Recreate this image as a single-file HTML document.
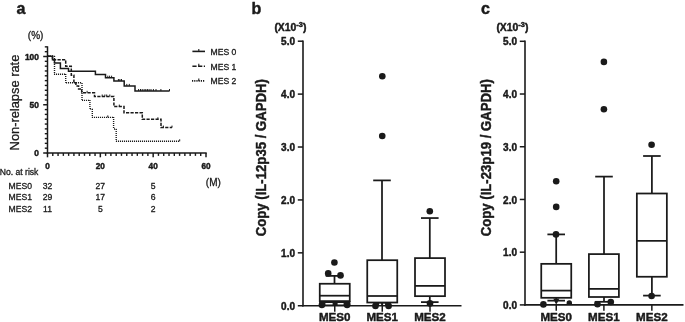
<!DOCTYPE html>
<html><head><meta charset="utf-8"><title>Figure</title>
<style>
html,body{margin:0;padding:0;background:#fff;}
body{width:685px;height:322px;overflow:hidden;}
svg{display:block;filter:grayscale(1);}
svg text{font-family:"Liberation Sans",sans-serif;fill:#1a1a1a;stroke:#1a1a1a;stroke-width:0.3px;stroke-linejoin:round;}
svg text[font-weight="bold"]{stroke-width:0.45px;}
</style></head>
<body>
<svg width="685" height="322" viewBox="0 0 685 322" stroke="#1a1a1a" fill="#1a1a1a" stroke-linecap="butt">
<rect x="0" y="0" width="685" height="322" fill="#fff" stroke="none"/>
<text x="16.6" y="14.4" font-size="16" font-weight="bold">a</text>
<text x="27.8" y="38.6" font-size="10">(%)</text>
<text transform="translate(18.6,102.55) rotate(-90)" text-anchor="middle" font-size="12.8" textLength="95.7" lengthAdjust="spacingAndGlyphs">Non-relapse rate</text>
<line x1="47.5" y1="46.3" x2="47.5" y2="153.75" stroke-width="1.5"/>
<line x1="43.2" y1="153" x2="47.5" y2="153" stroke-width="1.5"/>
<line x1="44.8" y1="148.18" x2="47.5" y2="148.18" stroke-width="1.4"/>
<line x1="44.8" y1="143.35" x2="47.5" y2="143.35" stroke-width="1.4"/>
<line x1="44.8" y1="138.53" x2="47.5" y2="138.53" stroke-width="1.4"/>
<line x1="44.8" y1="133.7" x2="47.5" y2="133.7" stroke-width="1.4"/>
<line x1="44.8" y1="128.88" x2="47.5" y2="128.88" stroke-width="1.4"/>
<line x1="44.8" y1="124.05" x2="47.5" y2="124.05" stroke-width="1.4"/>
<line x1="44.8" y1="119.22" x2="47.5" y2="119.22" stroke-width="1.4"/>
<line x1="44.8" y1="114.4" x2="47.5" y2="114.4" stroke-width="1.4"/>
<line x1="44.8" y1="109.58" x2="47.5" y2="109.58" stroke-width="1.4"/>
<line x1="43.2" y1="104.75" x2="47.5" y2="104.75" stroke-width="1.5"/>
<line x1="44.8" y1="99.92" x2="47.5" y2="99.92" stroke-width="1.4"/>
<line x1="44.8" y1="95.1" x2="47.5" y2="95.1" stroke-width="1.4"/>
<line x1="44.8" y1="90.28" x2="47.5" y2="90.28" stroke-width="1.4"/>
<line x1="44.8" y1="85.45" x2="47.5" y2="85.45" stroke-width="1.4"/>
<line x1="44.8" y1="80.62" x2="47.5" y2="80.62" stroke-width="1.4"/>
<line x1="44.8" y1="75.8" x2="47.5" y2="75.8" stroke-width="1.4"/>
<line x1="44.8" y1="70.97" x2="47.5" y2="70.97" stroke-width="1.4"/>
<line x1="44.8" y1="66.15" x2="47.5" y2="66.15" stroke-width="1.4"/>
<line x1="44.8" y1="61.33" x2="47.5" y2="61.33" stroke-width="1.4"/>
<line x1="43.2" y1="56.5" x2="47.5" y2="56.5" stroke-width="1.5"/>
<line x1="44.8" y1="51.67" x2="47.5" y2="51.67" stroke-width="1.4"/>
<line x1="44.8" y1="46.85" x2="47.5" y2="46.85" stroke-width="1.4"/>
<text x="38.9" y="156.3" font-size="8.4" font-weight="bold" text-anchor="end">0</text>
<text x="38.9" y="108.05" font-size="8.4" font-weight="bold" text-anchor="end">50</text>
<text x="38.9" y="59.8" font-size="8.4" font-weight="bold" text-anchor="end">100</text>
<line x1="46.75" y1="153" x2="206.7" y2="153" stroke-width="1.5"/>
<line x1="47.5" y1="153" x2="47.5" y2="157.3" stroke-width="1.5"/>
<line x1="52.78" y1="153" x2="52.78" y2="155.9" stroke-width="1.4"/>
<line x1="58.07" y1="153" x2="58.07" y2="155.9" stroke-width="1.4"/>
<line x1="63.35" y1="153" x2="63.35" y2="155.9" stroke-width="1.4"/>
<line x1="68.63" y1="153" x2="68.63" y2="155.9" stroke-width="1.4"/>
<line x1="73.92" y1="153" x2="73.92" y2="155.9" stroke-width="1.4"/>
<line x1="79.2" y1="153" x2="79.2" y2="155.9" stroke-width="1.4"/>
<line x1="84.48" y1="153" x2="84.48" y2="155.9" stroke-width="1.4"/>
<line x1="89.77" y1="153" x2="89.77" y2="155.9" stroke-width="1.4"/>
<line x1="95.05" y1="153" x2="95.05" y2="155.9" stroke-width="1.4"/>
<line x1="100.33" y1="153" x2="100.33" y2="157.3" stroke-width="1.5"/>
<line x1="105.62" y1="153" x2="105.62" y2="155.9" stroke-width="1.4"/>
<line x1="110.9" y1="153" x2="110.9" y2="155.9" stroke-width="1.4"/>
<line x1="116.18" y1="153" x2="116.18" y2="155.9" stroke-width="1.4"/>
<line x1="121.47" y1="153" x2="121.47" y2="155.9" stroke-width="1.4"/>
<line x1="126.75" y1="153" x2="126.75" y2="155.9" stroke-width="1.4"/>
<line x1="132.03" y1="153" x2="132.03" y2="155.9" stroke-width="1.4"/>
<line x1="137.32" y1="153" x2="137.32" y2="155.9" stroke-width="1.4"/>
<line x1="142.6" y1="153" x2="142.6" y2="155.9" stroke-width="1.4"/>
<line x1="147.88" y1="153" x2="147.88" y2="155.9" stroke-width="1.4"/>
<line x1="153.17" y1="153" x2="153.17" y2="157.3" stroke-width="1.5"/>
<line x1="158.45" y1="153" x2="158.45" y2="155.9" stroke-width="1.4"/>
<line x1="163.73" y1="153" x2="163.73" y2="155.9" stroke-width="1.4"/>
<line x1="169.02" y1="153" x2="169.02" y2="155.9" stroke-width="1.4"/>
<line x1="174.3" y1="153" x2="174.3" y2="155.9" stroke-width="1.4"/>
<line x1="179.58" y1="153" x2="179.58" y2="155.9" stroke-width="1.4"/>
<line x1="184.87" y1="153" x2="184.87" y2="155.9" stroke-width="1.4"/>
<line x1="190.15" y1="153" x2="190.15" y2="155.9" stroke-width="1.4"/>
<line x1="195.43" y1="153" x2="195.43" y2="155.9" stroke-width="1.4"/>
<line x1="200.72" y1="153" x2="200.72" y2="155.9" stroke-width="1.4"/>
<line x1="206" y1="153" x2="206" y2="157.3" stroke-width="1.5"/>
<text x="47.5" y="168.6" font-size="8.2" font-weight="bold" text-anchor="middle">0</text>
<text x="100.33" y="168.6" font-size="8.2" font-weight="bold" text-anchor="middle">20</text>
<text x="153.17" y="168.6" font-size="8.2" font-weight="bold" text-anchor="middle">40</text>
<text x="206" y="168.6" font-size="8.2" font-weight="bold" text-anchor="middle">60</text>
<text x="205.8" y="185.6" font-size="10">(M)</text>
<text x="-0.3" y="174.9" font-size="8.6">No. at risk</text>
<text x="8.6" y="188.5" font-size="8.6">MES0</text>
<text x="47.5" y="188.5" font-size="8.6" text-anchor="middle">32</text>
<text x="100.33" y="188.5" font-size="8.6" text-anchor="middle">27</text>
<text x="153.17" y="188.5" font-size="8.6" text-anchor="middle">5</text>
<text x="8.6" y="200.4" font-size="8.6">MES1</text>
<text x="47.5" y="200.4" font-size="8.6" text-anchor="middle">29</text>
<text x="100.33" y="200.4" font-size="8.6" text-anchor="middle">17</text>
<text x="153.17" y="200.4" font-size="8.6" text-anchor="middle">6</text>
<text x="8.6" y="212.3" font-size="8.6">MES2</text>
<text x="47.5" y="212.3" font-size="8.6" text-anchor="middle">11</text>
<text x="100.33" y="212.3" font-size="8.6" text-anchor="middle">5</text>
<text x="153.17" y="212.3" font-size="8.6" text-anchor="middle">2</text>
<path d="M192.4,51.4 L205,51.4" fill="none" stroke-width="1.6"/>
<line x1="198.8" y1="51.4" x2="198.8" y2="48.9" stroke-width="1.1"/>
<text x="210.6" y="54.7" font-size="8.6">MES 0</text>
<path d="M192.4,66.2 L205,66.2" fill="none" stroke-width="1.6" stroke-dasharray="4.2 1.5"/>
<line x1="198.8" y1="66.2" x2="198.8" y2="63.7" stroke-width="1.1"/>
<text x="210.6" y="69.5" font-size="8.6">MES 1</text>
<path d="M192,80.9 H205" fill="none" stroke-width="1.6" stroke-dasharray="1.2 1"/>
<line x1="198.8" y1="80.9" x2="198.8" y2="78.4" stroke-width="1.1"/>
<text x="210.6" y="84.2" font-size="8.6">MES 2</text>
<path d="M48,56.3 H54.5" fill="none" stroke-width="1.4" stroke-dasharray="1.1 0.9"/>
<path d="M54.5,56 V74.2" fill="none" stroke-width="1.4" stroke-dasharray="1.1 0.9"/>
<path d="M54,74.2 H65.7" fill="none" stroke-width="1.4" stroke-dasharray="1.1 0.9"/>
<path d="M65.7,74 V82.8" fill="none" stroke-width="1.4" stroke-dasharray="1.1 0.9"/>
<path d="M66,82.8 H82" fill="none" stroke-width="1.4" stroke-dasharray="1.1 0.9"/>
<path d="M82,83 V100.4" fill="none" stroke-width="1.4" stroke-dasharray="1.1 0.9"/>
<path d="M82,100.4 H89.9" fill="none" stroke-width="1.4" stroke-dasharray="1.1 0.9"/>
<path d="M89.9,100 V108.7" fill="none" stroke-width="1.4" stroke-dasharray="1.1 0.9"/>
<path d="M90,108.7 H92.3" fill="none" stroke-width="1.4" stroke-dasharray="1.1 0.9"/>
<path d="M92.3,109 V117.4" fill="none" stroke-width="1.4" stroke-dasharray="1.1 0.9"/>
<path d="M92,117.4 H113.6" fill="none" stroke-width="1.4" stroke-dasharray="1.1 0.9"/>
<path d="M113.6,117 V129" fill="none" stroke-width="1.4" stroke-dasharray="1.1 0.9"/>
<path d="M114,129 H116.2" fill="none" stroke-width="1.4" stroke-dasharray="1.1 0.9"/>
<path d="M116.2,129 V141.3" fill="none" stroke-width="1.4" stroke-dasharray="1.1 0.9"/>
<path d="M116,141.3 H179.7" fill="none" stroke-width="1.4" stroke-dasharray="1.1 0.9"/>
<path d="M47.5,56.3 L52.5,56.3 L52.5,59.8 L65.7,59.8 L65.7,66.3 L71.3,66.3 L71.3,75.2 L73.9,75.2 L73.9,82.8 L75.9,82.8 L75.9,85.9 L78.6,85.9 L78.6,89 L81.7,89 L81.7,92.8 L94.5,92.8 L94.5,96.5 L113.9,96.5 L113.9,106.6 L124,106.6 L124,112.8 L142.3,112.8 L142.3,119.3 L161,119.3 L161,127.6 L172,127.6" fill="none" stroke-width="1.5" stroke-dasharray="3.2 1.3"/>
<path d="M47.5,56.3 L52.5,56.3 L52.5,59.8 L54.5,59.8 L54.5,62.9 L60.4,62.9 L60.4,68.4 L68.5,68.4 L68.5,71.2 L95.4,71.2 L95.4,74.5 L105.5,74.5 L105.5,77.7 L113.9,77.7 L113.9,81 L124.2,81 L124.2,85.9 L135,85.9 L135,91 L169.6,91" fill="none" stroke-width="1.5"/>
<line x1="107.8" y1="77.7" x2="107.8" y2="75.7" stroke-width="1"/>
<line x1="109.6" y1="77.7" x2="109.6" y2="75.7" stroke-width="1"/>
<line x1="111.6" y1="77.7" x2="111.6" y2="75.7" stroke-width="1"/>
<line x1="118.4" y1="81" x2="118.4" y2="79" stroke-width="1"/>
<line x1="119.9" y1="81" x2="119.9" y2="79" stroke-width="1"/>
<line x1="121.5" y1="81" x2="121.5" y2="79" stroke-width="1"/>
<line x1="126.8" y1="85.9" x2="126.8" y2="83.9" stroke-width="1"/>
<line x1="129.3" y1="85.9" x2="129.3" y2="83.9" stroke-width="1"/>
<line x1="138.6" y1="91" x2="138.6" y2="89" stroke-width="1"/>
<line x1="140.5" y1="91" x2="140.5" y2="89" stroke-width="1"/>
<line x1="142.2" y1="91" x2="142.2" y2="89" stroke-width="1"/>
<line x1="144.1" y1="91" x2="144.1" y2="89" stroke-width="1"/>
<line x1="145.8" y1="91" x2="145.8" y2="89" stroke-width="1"/>
<line x1="147.4" y1="91" x2="147.4" y2="89" stroke-width="1"/>
<line x1="149.1" y1="91" x2="149.1" y2="89" stroke-width="1"/>
<line x1="151" y1="91" x2="151" y2="89" stroke-width="1"/>
<line x1="153.4" y1="91" x2="153.4" y2="89" stroke-width="1"/>
<line x1="156" y1="91" x2="156" y2="89" stroke-width="1"/>
<line x1="160.9" y1="91" x2="160.9" y2="89" stroke-width="1"/>
<line x1="169.5" y1="91" x2="169.5" y2="89" stroke-width="1"/>
<line x1="87.1" y1="92.8" x2="87.1" y2="90.8" stroke-width="1"/>
<line x1="102.2" y1="96.5" x2="102.2" y2="94.5" stroke-width="1"/>
<line x1="104.9" y1="96.5" x2="104.9" y2="94.5" stroke-width="1"/>
<line x1="106.7" y1="96.5" x2="106.7" y2="94.5" stroke-width="1"/>
<line x1="109.8" y1="96.5" x2="109.8" y2="94.5" stroke-width="1"/>
<line x1="119.3" y1="106.6" x2="119.3" y2="104.6" stroke-width="1"/>
<line x1="157.9" y1="119.3" x2="157.9" y2="117.3" stroke-width="1"/>
<line x1="163.4" y1="127.6" x2="163.4" y2="125.6" stroke-width="1"/>
<line x1="172" y1="127.6" x2="172" y2="125.6" stroke-width="1"/>
<line x1="107.8" y1="117.4" x2="107.8" y2="115.4" stroke-width="1"/>
<line x1="179.7" y1="141.3" x2="179.7" y2="139.3" stroke-width="1"/>
<text x="251.5" y="13.9" font-size="16" font-weight="bold">b</text>
<text x="274.4" y="31" font-size="10.4" font-weight="bold">(X10<tspan font-size="7.4" dy="-3.9">-3</tspan><tspan dy="3.9">)</tspan></text>
<text transform="translate(265.7,157.7) rotate(-90)" text-anchor="middle" font-size="13.8" font-weight="bold" textLength="157" lengthAdjust="spacingAndGlyphs">Copy (IL-12p35 / GAPDH)</text>
<line x1="303" y1="40.4" x2="303" y2="306.55" stroke-width="1.6"/>
<line x1="302.2" y1="305.75" x2="461.5" y2="305.75" stroke-width="1.6"/>
<line x1="297.8" y1="305.75" x2="303" y2="305.75" stroke-width="1.5"/>
<text x="295" y="309.85" font-size="10" font-weight="bold" text-anchor="end">0.0</text>
<line x1="297.8" y1="252.84" x2="303" y2="252.84" stroke-width="1.5"/>
<text x="295" y="256.94" font-size="10" font-weight="bold" text-anchor="end">1.0</text>
<line x1="297.8" y1="199.93" x2="303" y2="199.93" stroke-width="1.5"/>
<text x="295" y="204.03" font-size="10" font-weight="bold" text-anchor="end">2.0</text>
<line x1="297.8" y1="147.02" x2="303" y2="147.02" stroke-width="1.5"/>
<text x="295" y="151.12" font-size="10" font-weight="bold" text-anchor="end">3.0</text>
<line x1="297.8" y1="94.11" x2="303" y2="94.11" stroke-width="1.5"/>
<text x="295" y="98.21" font-size="10" font-weight="bold" text-anchor="end">4.0</text>
<line x1="297.8" y1="41.2" x2="303" y2="41.2" stroke-width="1.5"/>
<text x="295" y="45.3" font-size="10" font-weight="bold" text-anchor="end">5.0</text>
<line x1="334.75" y1="305.75" x2="334.75" y2="311.65" stroke-width="1.5"/>
<text x="334.75" y="321.3" font-size="11.6" font-weight="bold" text-anchor="middle">MES0</text>
<line x1="334.5" y1="275.9" x2="334.5" y2="283.75" stroke-width="1.75"/>
<line x1="325.7" y1="275.9" x2="343.3" y2="275.9" stroke-width="1.75"/>
<rect x="319.75" y="283.75" width="30" height="17.35" fill="none" stroke-width="1.75"/>
<line x1="319.75" y1="295.7" x2="349.75" y2="295.7" stroke-width="1.75"/>
<circle cx="334.4" cy="262.5" r="3.3" stroke="none"/>
<circle cx="328.2" cy="273.4" r="3.3" stroke="none"/>
<circle cx="340.5" cy="275.4" r="3.3" stroke="none"/>
<circle cx="321.9" cy="305" r="3.3" stroke="none"/>
<circle cx="347.1" cy="305" r="3.3" stroke="none"/>
<path d="M319.1,301 H350.4 V305.2 H319.1 Z M325.4,302.9 V304.6 H332.6 V302.9 Z M337.6,302.9 V304.6 H343.6 V302.9 Z" fill-rule="evenodd" stroke="none"/>
<line x1="382.25" y1="305.75" x2="382.25" y2="311.65" stroke-width="1.5"/>
<text x="382.25" y="321.3" font-size="11.6" font-weight="bold" text-anchor="middle">MES1</text>
<line x1="382" y1="180.4" x2="382" y2="260.2" stroke-width="1.75"/>
<line x1="373.2" y1="180.4" x2="390.8" y2="180.4" stroke-width="1.75"/>
<rect x="367.25" y="260.2" width="30" height="42.3" fill="none" stroke-width="1.75"/>
<line x1="367.25" y1="296" x2="397.25" y2="296" stroke-width="1.75"/>
<circle cx="382.3" cy="76.2" r="3.3" stroke="none"/>
<circle cx="382.25" cy="136" r="3.3" stroke="none"/>
<circle cx="375.5" cy="305.9" r="3.3" stroke="none"/>
<circle cx="388.6" cy="305.9" r="3.3" stroke="none"/>
<path d="M375.5,302.8 H388.6 V305.5 H375.5 Z M379.1,303.5 V304.9 H381.1 V303.5 Z M383.1,303.5 V304.9 H385.1 V303.5 Z" fill-rule="evenodd" stroke="none"/>
<line x1="430" y1="305.75" x2="430" y2="311.65" stroke-width="1.5"/>
<text x="430" y="321.3" font-size="11.6" font-weight="bold" text-anchor="middle">MES2</text>
<line x1="429.8" y1="218.05" x2="429.8" y2="258.1" stroke-width="1.75"/>
<line x1="421" y1="218.05" x2="438.6" y2="218.05" stroke-width="1.75"/>
<line x1="429.8" y1="296.15" x2="429.8" y2="302.1" stroke-width="1.75"/>
<line x1="421" y1="302.1" x2="438.6" y2="302.1" stroke-width="1.75"/>
<rect x="415" y="258.1" width="30" height="38.05" fill="none" stroke-width="1.75"/>
<line x1="415" y1="285.9" x2="445" y2="285.9" stroke-width="1.75"/>
<circle cx="429.8" cy="211.3" r="3.3" stroke="none"/>
<circle cx="430" cy="303.4" r="3.3" stroke="none"/>
<text x="480.9" y="13.9" font-size="16" font-weight="bold">c</text>
<text x="496.4" y="31" font-size="10.4" font-weight="bold">(X10<tspan font-size="7.4" dy="-3.9">-3</tspan><tspan dy="3.9">)</tspan></text>
<text transform="translate(490.6,157.7) rotate(-90)" text-anchor="middle" font-size="13.8" font-weight="bold" textLength="157" lengthAdjust="spacingAndGlyphs">Copy (IL-23p19 / GAPDH)</text>
<line x1="525" y1="40.5" x2="525" y2="305.7" stroke-width="1.6"/>
<line x1="524.2" y1="304.9" x2="683.5" y2="304.9" stroke-width="1.6"/>
<line x1="519.8" y1="304.9" x2="525" y2="304.9" stroke-width="1.5"/>
<text x="517" y="309" font-size="10" font-weight="bold" text-anchor="end">0.0</text>
<line x1="519.8" y1="252.18" x2="525" y2="252.18" stroke-width="1.5"/>
<text x="517" y="256.28" font-size="10" font-weight="bold" text-anchor="end">1.0</text>
<line x1="519.8" y1="199.46" x2="525" y2="199.46" stroke-width="1.5"/>
<text x="517" y="203.56" font-size="10" font-weight="bold" text-anchor="end">2.0</text>
<line x1="519.8" y1="146.74" x2="525" y2="146.74" stroke-width="1.5"/>
<text x="517" y="150.84" font-size="10" font-weight="bold" text-anchor="end">3.0</text>
<line x1="519.8" y1="94.02" x2="525" y2="94.02" stroke-width="1.5"/>
<text x="517" y="98.12" font-size="10" font-weight="bold" text-anchor="end">4.0</text>
<line x1="519.8" y1="41.3" x2="525" y2="41.3" stroke-width="1.5"/>
<text x="517" y="45.4" font-size="10" font-weight="bold" text-anchor="end">5.0</text>
<line x1="556.25" y1="304.9" x2="556.25" y2="310.8" stroke-width="1.5"/>
<text x="556.25" y="321.3" font-size="11.6" font-weight="bold" text-anchor="middle">MES0</text>
<line x1="556.2" y1="234.4" x2="556.2" y2="263.85" stroke-width="1.75"/>
<line x1="547.4" y1="234.4" x2="565" y2="234.4" stroke-width="1.75"/>
<line x1="556.2" y1="297.8" x2="556.2" y2="300.65" stroke-width="1.75"/>
<line x1="547.4" y1="300.65" x2="565" y2="300.65" stroke-width="1.75"/>
<rect x="541.25" y="263.85" width="30" height="33.95" fill="none" stroke-width="1.75"/>
<line x1="541.25" y1="290.6" x2="571.25" y2="290.6" stroke-width="1.75"/>
<circle cx="556.2" cy="181.25" r="3.3" stroke="none"/>
<circle cx="556.2" cy="206.9" r="3.3" stroke="none"/>
<circle cx="556" cy="234.4" r="3.3" stroke="none"/>
<circle cx="543.4" cy="304.4" r="3.3" stroke="none"/>
<path d="M553.3,298.4 H559.4 L557.3,302.8 L556.2,304.4 L555.2,302.8 Z" stroke="none"/>
<path d="M566.6,304.6 V302.8 A2.7,2.5 0 0 1 572,302.8 V304.6 Z" stroke="none"/>
<line x1="603.9" y1="304.9" x2="603.9" y2="310.8" stroke-width="1.5"/>
<text x="603.9" y="321.3" font-size="11.6" font-weight="bold" text-anchor="middle">MES1</text>
<line x1="604" y1="176.6" x2="604" y2="254.1" stroke-width="1.75"/>
<line x1="595.2" y1="176.6" x2="612.8" y2="176.6" stroke-width="1.75"/>
<line x1="604" y1="297" x2="604" y2="301.8" stroke-width="1.75"/>
<line x1="595.2" y1="301.8" x2="612.8" y2="301.8" stroke-width="1.75"/>
<rect x="588.9" y="254.1" width="30" height="42.9" fill="none" stroke-width="1.75"/>
<line x1="588.9" y1="288.9" x2="618.9" y2="288.9" stroke-width="1.75"/>
<circle cx="603.9" cy="61.9" r="3.3" stroke="none"/>
<circle cx="603.9" cy="109.3" r="3.3" stroke="none"/>
<circle cx="597.5" cy="304.3" r="3.3" stroke="none"/>
<circle cx="610.8" cy="302" r="3.3" stroke="none"/>
<path d="M594.6,301.2 H600 V304 H594.6 Z" stroke="none"/>
<line x1="651.85" y1="304.9" x2="651.85" y2="310.8" stroke-width="1.5"/>
<text x="651.85" y="321.3" font-size="11.6" font-weight="bold" text-anchor="middle">MES2</text>
<line x1="651.9" y1="156" x2="651.9" y2="193.5" stroke-width="1.75"/>
<line x1="643.1" y1="156" x2="660.7" y2="156" stroke-width="1.75"/>
<line x1="651.9" y1="276.75" x2="651.9" y2="295.6" stroke-width="1.75"/>
<line x1="643.1" y1="295.6" x2="660.7" y2="295.6" stroke-width="1.75"/>
<rect x="636.85" y="193.5" width="30" height="83.25" fill="none" stroke-width="1.75"/>
<line x1="636.85" y1="240.85" x2="666.85" y2="240.85" stroke-width="1.75"/>
<circle cx="651.6" cy="144.8" r="3.3" stroke="none"/>
<circle cx="651.6" cy="296" r="3.3" stroke="none"/>
</svg>
</body></html>
